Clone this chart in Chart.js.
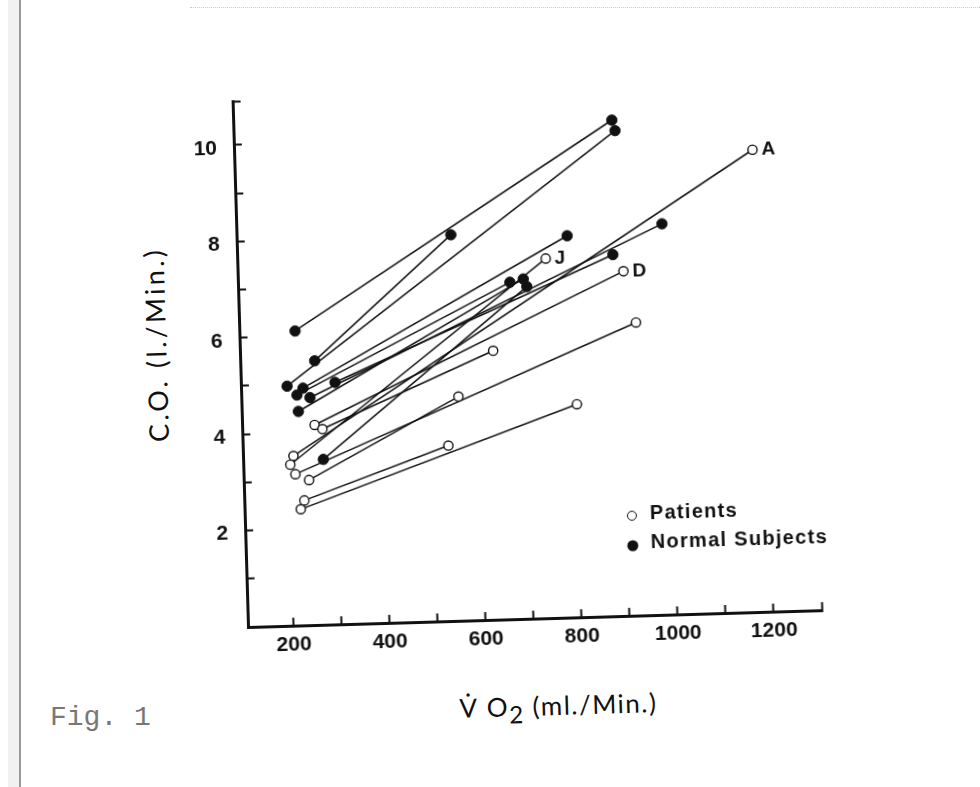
<!DOCTYPE html>
<html lang="en">
  <head>
    <meta charset="UTF-8" />
    <title>Fig. 1 - C.O. against VO2</title>
    <script src="https://cdn.jsdelivr.net/npm/chart.js"></script>
    <style>
      body {
        margin: 0;
        width: 980px;
        height: 787px;
        overflow: hidden;
        position: relative;
        background: #fff;
        color: #111;
      }
      /* the scanned sheet sits a little crooked, so the whole figure is turned about the axis corner */
      #page {
        position: absolute;
        left: 0;
        top: 0;
        width: 980px;
        height: 787px;
        transform-origin: 248.3px 626.7px;
        transform: rotate(-1.68deg);
      }
      #plot {
        position: absolute;
      }
      #yTitle {
        position: absolute;
        left: 164px;
        top: 342px;
        transform: translate(-50%, -50%) rotate(-90deg);
        white-space: nowrap;
        font-family: Lato, "Open Sans", sans-serif;
        font-size: 27px;
        letter-spacing: 3.2px;
      }
      #xTitle {
        position: absolute;
        left: 556px;
        top: 714px;
        transform: translate(-50%, -50%);
        white-space: nowrap;
        font-family: Lato, "Open Sans", sans-serif;
        font-size: 26px;
        letter-spacing: 1.5px;
      }
      #xTitle .sub {
        position: relative;
        top: 7px;
        font-size: 24px;
        margin-right: 8px;
      }
      .leg {
        position: absolute;
        transform: translateY(-50%);
        white-space: nowrap;
        font-family: "Liberation Sans", Arial, sans-serif;
        font-weight: bold;
        font-size: 20px;
        letter-spacing: 1.3px;
      }
      .mark {
        position: absolute;
        box-sizing: border-box;
        border-radius: 50%;
        transform: translate(-50%, -50%);
      }
      .mark.open {
        width: 10px;
        height: 10px;
        border: 1.5px solid #111;
        background: #fff;
      }
      .mark.full {
        width: 11px;
        height: 11px;
        background: #111;
      }
      #fig {
        position: absolute;
        left: 50px;
        top: 702px;
        font-family: "Liberation Mono", "DejaVu Sans Mono", monospace;
        font-size: 28px;
        color: #777;
      }
      #edge {
        position: absolute;
        left: 19px;
        top: 0;
        width: 2px;
        height: 787px;
        background: #999;
      }
      #edgeShade {
        position: absolute;
        left: 8px;
        top: 0;
        width: 11px;
        height: 787px;
        background: #f1f1f1;
      }
      #topEdge {
        position: absolute;
        left: 190px;
        top: 7px;
        width: 790px;
        border-top: 1px dotted #ccc;
      }
    </style>
  </head>
  <body>
    <div id="edgeShade"></div>
    <div id="edge"></div>
    <div id="topEdge"></div>
    <div id="fig">Fig. 1</div>

    <div id="page">
      <canvas id="plot" width="648" height="611"></canvas>
      <div id="yTitle">C.O. (l./Min.)</div>
      <div id="xTitle">V&#775; O<span class="sub">2</span>(ml./Min.)</div>

      <span class="mark open" style="left: 635px; top: 527px"></span>
      <div class="leg" style="left: 653px; top: 524px">Patients</div>
      <span class="mark full" style="left: 635px; top: 557px"></span>
      <div class="leg" style="left: 653px; top: 553px">Normal Subjects</div>
    </div>

    <script>
      // patients: resting value, then value on exercise (ml O2/min, l/min)
      const patientRestVO2 = [210, 203, 256, 272, 213, 241, 230, 222];
      const patientRestCO = [3.52, 3.34, 4.15, 4.06, 3.14, 3.01, 2.59, 2.41];
      const patientExVO2 = [1184, 747, 908, 632, 931, 557, 533, 803];
      const patientExCO = [9.59, 7.46, 7.15, 5.58, 6.08, 4.65, 3.64, 4.42];
      const patientTag = ["A", "J", "D", "", "", "", "", ""];

      // normal subjects
      const normalRestVO2 = [221, 201, 260, 248, 234, 301, 221, 223, 272];
      const normalRestCO = [6.11, 4.97, 5.48, 4.72, 4.92, 5.02, 4.78, 4.44, 3.43];
      const normalExVO2 = [893, 899, 551, 991, 793, 887, 671, 699, 706];
      const normalExCO = [10.29, 10.07, 8.01, 8.11, 7.92, 7.5, 6.99, 7.05, 6.89];

      const xTickValues = [200, 300, 400, 500, 600, 700, 800, 900, 1000, 1100, 1200, 1300];
      const xTickLabels = [200, 400, 600, 800, 1000, 1200];
      const yTickValues = [1, 2, 3, 4, 5, 6, 7, 8, 9, 10, 10.9];
      const yTickLabels = [2, 4, 6, 8, 10];

      const ink = "#111";
      const tickFont = { family: '"Liberation Sans", Arial, sans-serif', size: 21, weight: "bold" };

      const datasets = [];
      const segment = (x1, y1, x2, y2) => ({
        data: [
          { x: x1, y: y1 },
          { x: x2, y: y2 },
        ],
        showLine: true,
        borderColor: ink,
        borderWidth: 1.5,
        pointRadius: 0,
        order: 3,
      });
      patientRestVO2.forEach((v, i) => {
        datasets.push(segment(v, patientRestCO[i], patientExVO2[i], patientExCO[i]));
      });
      normalRestVO2.forEach((v, i) => {
        datasets.push(segment(v, normalRestCO[i], normalExVO2[i], normalExCO[i]));
      });

      const pointsOf = (xs, ys) => xs.map((v, i) => ({ x: v, y: ys[i] }));
      datasets.push({
        label: "Normal Subjects",
        data: pointsOf(normalRestVO2, normalRestCO).concat(pointsOf(normalExVO2, normalExCO)),
        showLine: false,
        pointRadius: 5.2,
        pointBackgroundColor: ink,
        pointBorderColor: ink,
        pointBorderWidth: 1,
        order: 2,
      });
      datasets.push({
        label: "Patients",
        data: pointsOf(patientRestVO2, patientRestCO).concat(pointsOf(patientExVO2, patientExCO)),
        showLine: false,
        pointRadius: 4.6,
        pointBackgroundColor: "#fff",
        pointBorderColor: ink,
        pointBorderWidth: 1.4,
        order: 1,
      });

      // letters next to some patients' exercise points
      const tagPlugin = {
        id: "tags",
        afterDatasetsDraw(chart) {
          const { ctx, scales } = chart;
          ctx.save();
          ctx.font = 'bold 19px "Liberation Sans", Arial, sans-serif';
          ctx.fillStyle = ink;
          ctx.textBaseline = "middle";
          patientTag.forEach((t, i) => {
            if (!t) return;
            const px = scales.x.getPixelForValue(patientExVO2[i]);
            const py = scales.y.getPixelForValue(patientExCO[i]);
            ctx.fillText(t, px + 9, py);
          });
          ctx.restore();
        },
      };

      const canvas = document.getElementById("plot");
      const chart = new Chart(canvas, {
        type: "scatter",
        data: { datasets },
        plugins: [tagPlugin],
        options: {
          responsive: false,
          maintainAspectRatio: false,
          animation: false,
          events: [],
          layout: { padding: { left: 10, right: 14, top: 16, bottom: 10 } },
          plugins: {
            legend: { display: false },
            tooltip: { enabled: false },
          },
          scales: {
            x: {
              type: "linear",
              min: 105,
              max: 1300,
              afterBuildTicks: (s) => {
                s.ticks = xTickValues.map((v) => ({ value: v }));
              },
              afterFit: (s) => {
                s.height = 40;
              },
              ticks: {
                callback: (v) => (xTickLabels.includes(v) ? String(v) : ""),
                font: tickFont,
                color: ink,
                padding: 15,
                maxRotation: 0,
                autoSkip: false,
              },
              grid: {
                drawOnChartArea: false,
                tickLength: -8,
                tickWidth: 2,
                tickColor: ink,
              },
              border: { width: 3, color: ink },
            },
            y: {
              type: "linear",
              min: 0,
              max: 10.9,
              afterBuildTicks: (s) => {
                s.ticks = yTickValues.map((v) => ({ value: v }));
              },
              afterFit: (s) => {
                s.width = 50;
              },
              ticks: {
                callback: (v) => (yTickLabels.includes(v) ? String(v) : ""),
                font: tickFont,
                color: ink,
                padding: 25,
                labelOffset: 3,
                autoSkip: false,
              },
              grid: {
                drawOnChartArea: false,
                tickLength: -8,
                tickWidth: 2,
                tickColor: ink,
              },
              border: { width: 3, color: ink },
            },
          },
        },
      });

      // size the plot box to the sheet (574 x 525 px) and put its corner where it sits
      let area = chart.chartArea;
      const dw = Math.round(574 - (area.right - area.left));
      const dh = Math.round(525 - (area.bottom - area.top));
      if (dw || dh) chart.resize(canvas.width + dw, canvas.height + dh);
      area = chart.chartArea;
      canvas.style.left = 248.3 - area.left + "px";
      canvas.style.top = 626.7 - area.bottom + "px";
    </script>
  </body>
</html>
